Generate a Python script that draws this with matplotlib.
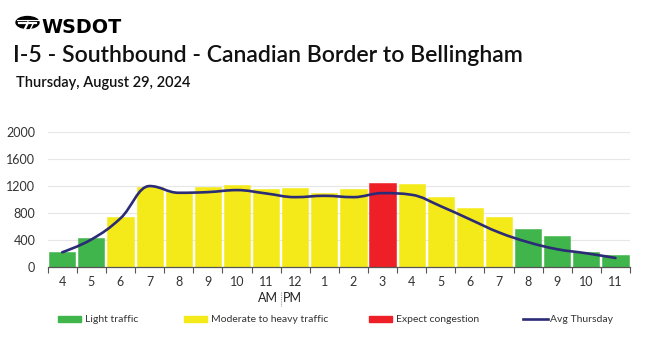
import matplotlib
matplotlib.use("Agg")
import matplotlib.pyplot as plt
from matplotlib.path import Path
from matplotlib.patches import PathPatch, Rectangle, Circle
from matplotlib.lines import Line2D
import numpy as np

plt.rcParams['font.family'] = ['Lato', 'DejaVu Sans']

# ---------------- data ----------------
hours = ["4", "5", "6", "7", "8", "9", "10", "11", "12", "1", "2", "3",
         "4", "5", "6", "7", "8", "9", "10", "11"]
volumes = [220, 430, 745, 1180, 1110, 1180, 1210, 1160, 1175, 1100, 1150, 1245,
           1230, 1040, 875, 745, 560, 450, 225, 170]
levels = ["light", "light", "moderate", "moderate", "moderate", "moderate", "moderate",
          "moderate", "moderate", "moderate", "moderate", "congestion", "moderate",
          "moderate", "moderate", "moderate", "light", "light", "light", "light"]
avg_thursday = [215, 405, 720, 1200, 1100, 1110, 1140, 1090, 1035, 1055, 1035, 1095,
                1070, 900, 705, 510, 365, 260, 200, 130]
yticks = [0, 400, 800, 1200, 1600, 2000]
legend_labels = ["Light traffic", "Moderate to heavy traffic", "Expect congestion", "Avg Thursday"]

colors = {"light": "#40b54b", "moderate": "#f4ea19", "congestion": "#ee1f26"}
line_color = "#2c2b76"

# ---------------- figure ----------------
W, H = 650, 337
fig = plt.figure(figsize=(W / 100, H / 100), dpi=100)

def fx(px):
    return px / W

def fy(py):
    return 1 - py / H

ax = fig.add_axes([fx(47.7), fy(266.7), fx(630) - fx(47.7), fy(132.3) - fy(266.7)])

x = np.arange(len(hours))
ax.bar(x, volumes, width=0.9, color=[colors[l] for l in levels], zorder=2,
       edgecolor=[colors[l] for l in levels], linewidth=0.4)

# Highcharts-like spline for the average line
def spline_path(xs, ys, smoothing=1.5):
    denom = smoothing + 1
    n = len(xs)
    lc = [None] * n
    rc = [None] * n
    for i in range(n):
        if 0 < i < n - 1:
            px_, py_ = xs[i], ys[i]
            lx, ly = xs[i - 1], ys[i - 1]
            nx, ny = xs[i + 1], ys[i + 1]
            lcx = (smoothing * px_ + lx) / denom
            lcy = (smoothing * py_ + ly) / denom
            rcx = (smoothing * px_ + nx) / denom
            rcy = (smoothing * py_ + ny) / denom
            corr = ((rcy - lcy) * (rcx - px_)) / (rcx - lcx) + py_ - rcy
            lcy += corr
            rcy += corr
            if lcy > ly and lcy > py_:
                lcy = max(ly, py_)
                rcy = 2 * py_ - lcy
            elif lcy < ly and lcy < py_:
                lcy = min(ly, py_)
                rcy = 2 * py_ - lcy
            if rcy > ny and rcy > py_:
                rcy = max(ny, py_)
                lcy = 2 * py_ - rcy
            elif rcy < ny and rcy < py_:
                rcy = min(ny, py_)
                lcy = 2 * py_ - rcy
            lc[i] = (lcx, lcy)
            rc[i] = (rcx, rcy)
    verts = [(xs[0], ys[0])]
    codes = [Path.MOVETO]
    for i in range(1, n):
        c1 = rc[i - 1] if rc[i - 1] is not None else (xs[i - 1], ys[i - 1])
        c2 = lc[i] if lc[i] is not None else (xs[i], ys[i])
        verts += [c1, c2, (xs[i], ys[i])]
        codes += [Path.CURVE4] * 3
    return Path(verts, codes)

path = spline_path(list(x.astype(float)), list(map(float, avg_thursday)))
ax.add_patch(PathPatch(path, facecolor="none", edgecolor=line_color, lw=1.9,
                       zorder=3, capstyle="round", joinstyle="round"))

ax.set_xlim(-0.5, len(hours) - 0.5)
ax.set_ylim(0, 2000)
ax.set_yticks(yticks)
ax.set_yticklabels([str(v) for v in yticks])
ax.set_xticks(x)
ax.set_xticklabels(hours)
ax.set_xticks(np.arange(-0.5, len(hours)), minor=True)
ax.tick_params(axis="x", which="major", length=0, pad=7, labelsize=9, colors="#333333")
ax.tick_params(axis="x", which="minor", length=4, width=0.8, color="#555555")
ax.tick_params(axis="y", length=0, pad=9, labelsize=9, colors="#333333")
ax.yaxis.grid(True, color="#e6e6e6", lw=0.8, zorder=0)
ax.set_axisbelow(True)
for s in ["top", "right", "left"]:
    ax.spines[s].set_visible(False)
ax.spines["bottom"].set_color("#555555")
ax.spines["bottom"].set_linewidth(0.9)

# AM | PM
fig.text(fx(278), fy(298.5), "AM", ha="right", va="center", fontsize=9, color="#222222")
fig.text(fx(283), fy(298.5), "PM", ha="left", va="center", fontsize=9, color="#222222")
fig.add_artist(Line2D([fx(280.5), fx(280.5)], [fy(291.5), fy(306)], color="#999999",
                      lw=0.8, ls=(0, (1, 1))))

# ---------------- header ----------------
# logo
fig.add_artist(Circle((fx(27.5), fy(22.5)), 11.5 / W, transform=fig.transFigure,
                      color="black"))
fig.add_artist(Line2D([fx(16.5), fx(38.5)], [fy(19.5), fy(19.5)], color="white", lw=0.8))
fig.add_artist(Line2D([fx(19), fx(36)], [fy(22.5), fy(22.5)], color="white", lw=1.6))
fig.add_artist(Line2D([fx(28), fx(23)], [fy(22.5), fy(33)], color="white", lw=1.6))
fig.add_artist(Line2D([fx(33), fx(29)], [fy(24), fy(32)], color="white", lw=1.0))
fig.text(fx(41), fy(27.8), "WSDOT", ha="left", va="center", fontsize=13.8,
         fontweight="bold", color="black", family=["DejaVu Sans"])

fig.text(fx(13), fy(56), "I-5 - Southbound - Canadian Border to Bellingham",
         ha="left", va="center", fontsize=16.6, fontweight="semibold", color="#111111")
fig.text(fx(16), fy(83), "Thursday, August 29, 2024", ha="left", va="center",
         fontsize=10.5, fontweight="semibold", color="#111111")

# ---------------- legend ----------------
leg_x = [58, 184, 369, 523]
leg_y = 319
for i, lab in enumerate(legend_labels):
    x0 = leg_x[i]
    if i < 3:
        c = colors[["light", "moderate", "congestion"][i]]
        fig.add_artist(Rectangle((fx(x0), fy(leg_y + 3)), 23 / W, 6 / H,
                                 transform=fig.transFigure, color=c))
    else:
        fig.add_artist(Line2D([fx(x0), fx(x0 + 25)], [fy(leg_y), fy(leg_y)],
                              color=line_color, lw=1.9))
    fig.text(fx(x0 + 27), fy(leg_y), lab, ha="left", va="center", fontsize=7.5,
             color="#333333")

fig.savefig("out.png", dpi=100)
